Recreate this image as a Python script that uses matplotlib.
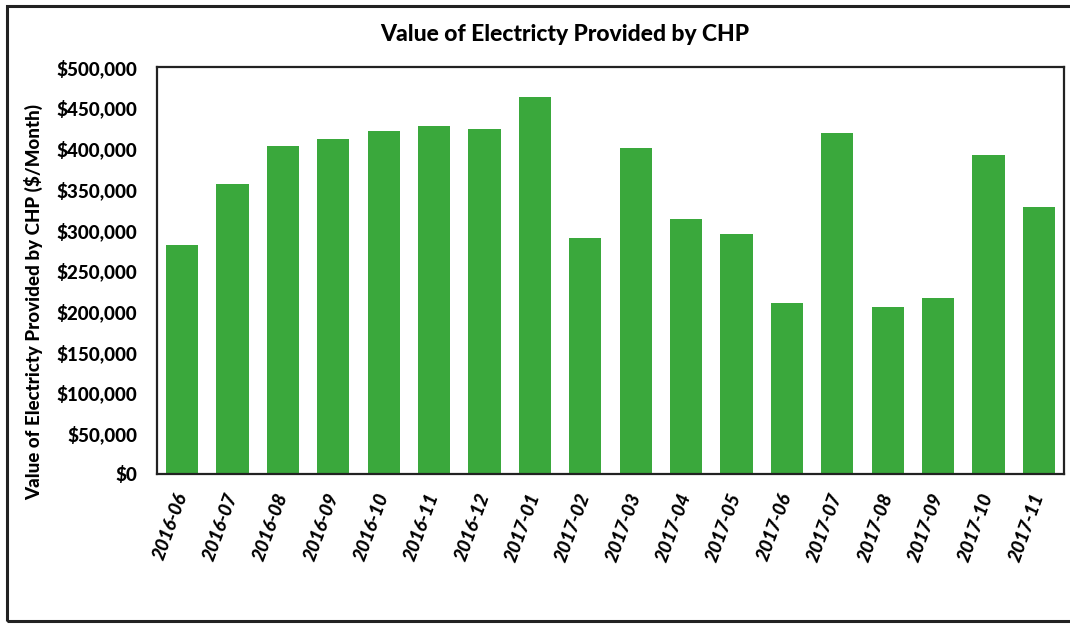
import numpy as np
import matplotlib
matplotlib.use("Agg")
import matplotlib.pyplot as plt
from matplotlib.patches import Rectangle
from matplotlib.ticker import FuncFormatter

# monthly value of electricity provided by CHP ($/month)
months = ["2016-06", "2016-07", "2016-08", "2016-09", "2016-10", "2016-11",
          "2016-12", "2017-01", "2017-02", "2017-03", "2017-04", "2017-05",
          "2017-06", "2017-07", "2017-08", "2017-09", "2017-10", "2017-11"]
values = [281000, 356000, 403000, 411000, 422000, 428000,
          424000, 463500, 290000, 401000, 313000, 295000,
          210000, 418500, 205000, 216000, 392000, 328500]
yticks = [0, 50000, 100000, 150000, 200000, 250000,
          300000, 350000, 400000, 450000, 500000]

plt.rcParams['font.family'] = ['Lato', 'DejaVu Sans']
W = 900  # heavy weight, the scan's Calibri bold looks dark

fig = plt.figure(figsize=(10.7, 6.24), dpi=100)
ax = fig.add_axes([0.1467, 0.2404, 0.8477, 0.6522])

x = np.arange(len(months))
ax.bar(x, values, width=0.64, color='#3aa83c')

ax.set_xlim(-0.5, len(months) - 0.5)
ax.set_ylim(0, 500000)
ax.set_yticks(yticks)
ax.yaxis.set_major_formatter(FuncFormatter(lambda v, p: f"${v:,.0f}"))
ax.tick_params(axis='y', length=0, pad=14, labelsize=13.5)
for lab in ax.get_yticklabels():
    lab.set_fontweight(W)

ax.set_xticks(x)
ax.set_xticklabels(months, rotation=70, ha='right', va='center',
                   rotation_mode='anchor', fontsize=13.5,
                   fontweight=W, fontstyle='italic')
ax.tick_params(axis='x', length=0, pad=14)

for s in ax.spines.values():
    s.set_linewidth(1.6)
    s.set_color('#222222')

fig.text(0.528, 0.945, "Value of Electricty Provided by CHP",
         ha='center', va='center', fontsize=16.5, fontweight=W)
fig.text(0.031, 0.516, "Value of Electricty Provided by CHP ($/Month)",
         ha='center', va='center', rotation=90, fontsize=13.5,
         fontweight=W)

# outer chart border
fig.add_artist(Rectangle((7 / 1070, 3 / 624), 1.2, 615 / 624,
                         transform=fig.transFigure, fill=False,
                         edgecolor='#222222', linewidth=2.2, clip_on=False))

fig.savefig("out.png", dpi=100)
